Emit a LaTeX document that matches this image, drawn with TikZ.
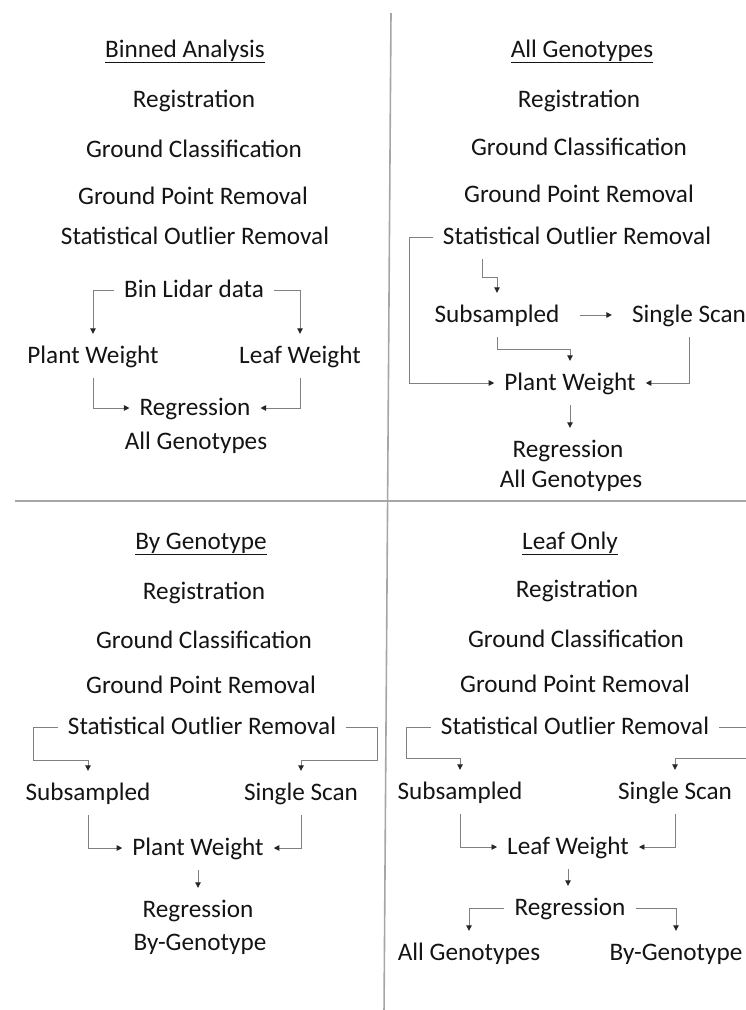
\documentclass[tikz,border=0pt]{standalone}
\usepackage{fontspec}
\setmainfont{Carlito}
\usetikzlibrary{arrows.meta, positioning, calc}

\begin{document}
\begin{tikzpicture}[
    x=1pt, y=-1pt,
    font=\fontsize{25.2}{30}\selectfont,
    stage/.style={
        inner xsep=10pt,
        inner ysep=8pt,
        text height=21pt,
        text depth=7pt,
        text=black!92
    },
    title/.style={
        stage
    },
    flow/.style={
        draw=black!50,
        line width=0.9pt,
        -{Triangle[length=5.5pt,width=5.5pt,color=black!85]}
    },
    divider/.style={
        draw=black!35,
        line width=1.6pt
    }
]

\path[use as bounding box, clip] (0,0) rectangle (746,1010);

% ------------------------------------------------------------
% dividers
% ------------------------------------------------------------
\draw[divider] (391,13) -- (384,1015);
\draw[divider] (15,501) -- (760,501);

% ------------------------------------------------------------
% top left: binned analysis
% ------------------------------------------------------------
\node[title] (t1) at (185,50) {\underline{Binned Analysis}};
\node[stage] (rg1) at (194,100) {Registration};
\node[stage] (gc1) at (194,150) {Ground Classification};
\node[stage] (gp1) at (193,197) {Ground Point Removal};
\node[stage] (so1) at (195,237) {Statistical Outlier Removal};
\node[stage] (bin1) at (194,290) {Bin Lidar data};
\node[stage] (pw1) at (93,356) {Plant Weight};
\node[stage] (lw1) at (300,356) {Leaf Weight};
\node[stage] (re1) at (195,408) {Regression};
\node[stage] (ag1) at (196,442) {All Genotypes};

\draw[flow] (bin1.west) -| (pw1.north);
\draw[flow] (bin1.east) -| (lw1.north);
\draw[flow] (pw1.south) |- (re1.west);
\draw[flow] (lw1.south) |- (re1.east);

% ------------------------------------------------------------
% top right: all genotypes
% ------------------------------------------------------------
\node[title] (t2) at (582,50) {\underline{All Genotypes}};
\node[stage] (rg2) at (579,100) {Registration};
\node[stage] (gc2) at (579,148) {Ground Classification};
\node[stage] (gp2) at (579,195) {Ground Point Removal};
\node[stage] (so2) at (577,237) {Statistical Outlier Removal};
\node[stage] (sub2) at (497,315) {Subsampled};
\node[stage] (ss2) at (689,315) {Single Scan};
\node[stage] (pw2) at (570,383) {Plant Weight};
\node[stage] (re2) at (568,450) {Regression};
\node[stage] (ag2) at (571,480) {All Genotypes};

\coordinate (k2a) at (409,383);
\coordinate (k2b) at (482,277);
\coordinate (k2c) at (570,349);
\draw[flow] (so2.west) -| (k2a) -- (pw2.west);
\draw[flow] (so2.south -| k2b) -- (k2b) -| (sub2.north);
\draw[flow, shorten <=10pt, shorten >=10pt] (sub2.east) -- (ss2.west);
\draw[flow] (sub2.south) |- (k2c) -- (pw2.north);
\draw[flow] (ss2.south) |- (pw2.east);
\draw[flow] (pw2.south) -- (pw2.south |- re2.north);

% ------------------------------------------------------------
% bottom left: by genotype
% ------------------------------------------------------------
\node[title] (t3) at (201,542) {\underline{By Genotype}};
\node[stage] (rg3) at (204,592) {Registration};
\node[stage] (gc3) at (204,641) {Ground Classification};
\node[stage] (gp3) at (201,686) {Ground Point Removal};
\node[stage] (so3) at (202,727) {Statistical Outlier Removal};
\node[stage] (sub3) at (88,793) {Subsampled};
\node[stage] (ss3) at (301,793) {Single Scan};
\node[stage] (pw3) at (198,848) {Plant Weight};
\node[stage] (re3) at (198,910) {Regression};
\node[stage] (bg3) at (200,943) {By-Genotype};

\coordinate (k3l) at (33,760);
\coordinate (k3r) at (377,760);
\draw[flow] (so3.west) -| (k3l) -| (sub3.north);
\draw[flow] (so3.east) -| (k3r) -| (ss3.north);
\draw[flow] (sub3.south) |- (pw3.west);
\draw[flow] (ss3.south) |- (pw3.east);
\draw[flow] (pw3.south) -- (re3.north);

% ------------------------------------------------------------
% bottom right: leaf only
% ------------------------------------------------------------
\node[title] (t4) at (570,542) {\underline{Leaf Only}};
\node[stage] (rg4) at (577,590) {Registration};
\node[stage] (gc4) at (576,640) {Ground Classification};
\node[stage] (gp4) at (575,685) {Ground Point Removal};
\node[stage] (so4) at (575,727) {Statistical Outlier Removal};
\node[stage] (sub4) at (460,792) {Subsampled};
\node[stage] (ss4) at (675,792) {Single Scan};
\node[stage] (lw4) at (568,847) {Leaf Weight};
\node[stage] (re4) at (570,908) {Regression};
\node[stage] (ag4) at (469,953) {All Genotypes};
\node[stage] (bg4) at (676,953) {By-Genotype};

\coordinate (k4l) at (406,758);
\coordinate (k4r) at (760,758);
\draw[flow] (so4.west) -| (k4l) -| (sub4.north);
\draw[flow] (so4.east) -| (k4r) -| (ss4.north);
\draw[flow] (sub4.south) |- (lw4.west);
\draw[flow] (ss4.south) |- (lw4.east);
\draw[flow] (lw4.south) -- (lw4.south |- re4.north);
\draw[flow] (re4.west) -| (ag4.north);
\draw[flow] (re4.east) -| (bg4.north);

\end{tikzpicture}
\end{document}
